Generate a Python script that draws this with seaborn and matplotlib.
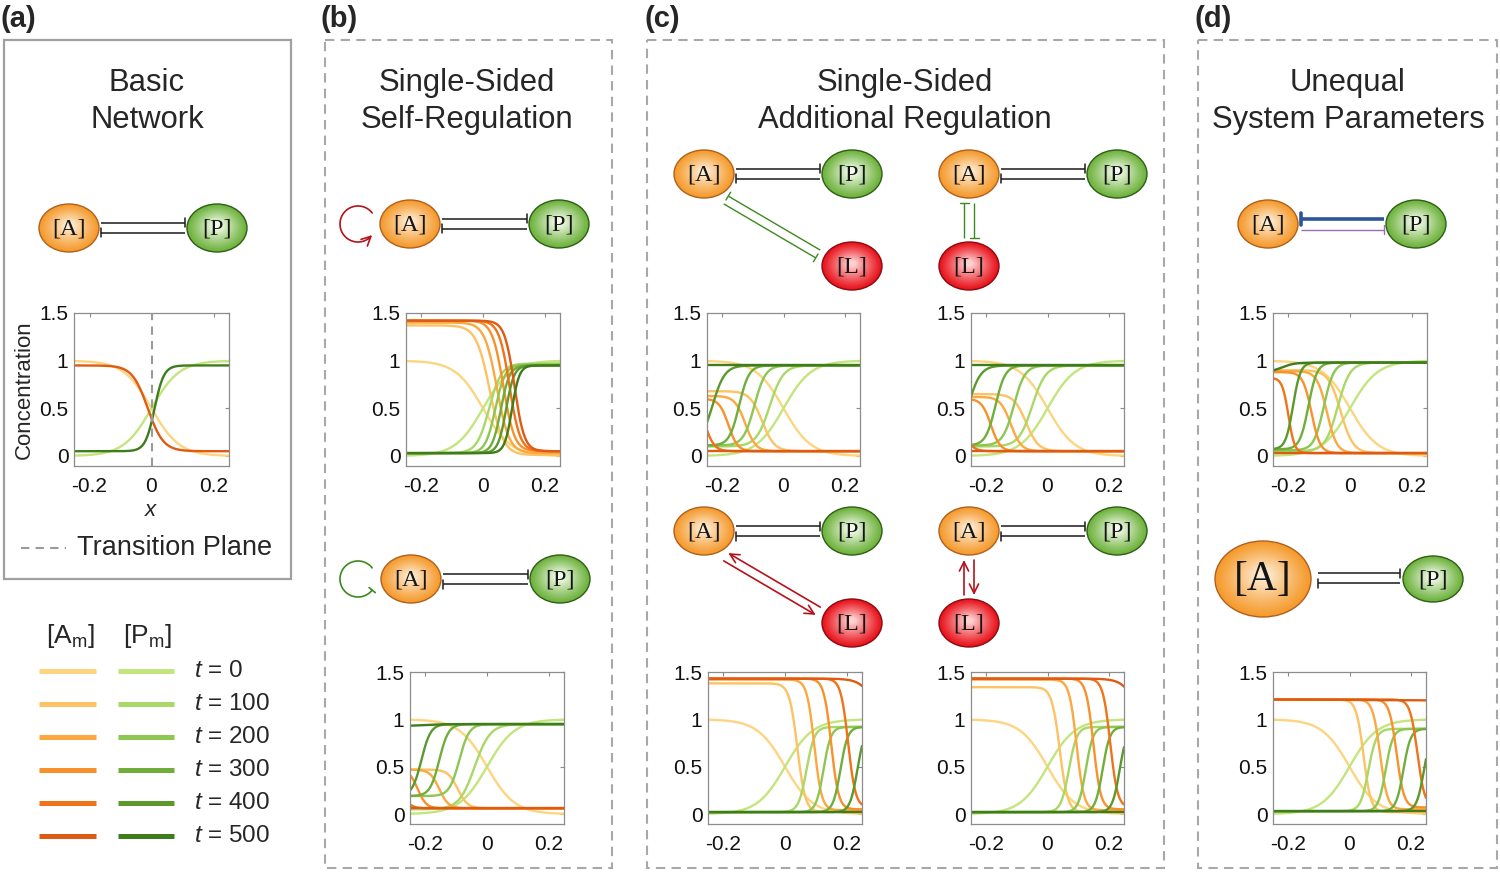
import numpy as np
import pandas as pd
import matplotlib
matplotlib.use("Agg")
import matplotlib.pyplot as plt
import seaborn as sns
from matplotlib.patches import Ellipse, Rectangle
from matplotlib.colors import to_rgb

# ---------------- data ----------------
TIMES = [0, 100, 200, 300, 400, 500]
A_COLORS = ["#FDD580", "#FDC263", "#FBA841", "#F8912C", "#F0731A", "#DF5A12"]
P_COLORS = ["#C3E57D", "#A9D867", "#8DC653", "#70AE3B", "#5B992D", "#3F7C1C"]

X_TICKS = [-0.2, 0, 0.2]
X_TICKLABELS = ["-0.2", "0", "0.2"]
Y_TICKS = [0, 0.5, 1, 1.5]
Y_TICKLABELS = ["0", "0.5", "1", "1.5"]

# Each curve is a single front: left level, right level, front position, front width
# (a) basic network: only t = 0 and t = 500 drawn
a_times = [0, 500]
a_A_left = [1.0, 0.95]; a_A_right = [0.0, 0.05]; a_A_mid = [0.0, -0.012]; a_A_w = [0.045, 0.025]
a_P_left = [0.0, 0.05]; a_P_right = [1.0, 0.95]; a_P_mid = [0.0, 0.01];  a_P_w = [0.045, 0.015]

# (b) top: self-activation
b1_A_left = [1.0, 1.37, 1.40, 1.42, 1.42, 1.42]
b1_A_right = [0.0, 0.01, 0.03, 0.05, 0.05, 0.05]
b1_A_mid = [0.0, 0.022, 0.045, 0.066, 0.086, 0.102]
b1_A_w = [0.045, 0.022, 0.02, 0.018, 0.017, 0.016]
b1_P_left = [0.0, 0.03, 0.03, 0.03, 0.03, 0.03]
b1_P_right = [1.0, 0.97, 0.96, 0.95, 0.95, 0.95]
b1_P_mid = [0.0, 0.02, 0.04, 0.058, 0.075, 0.094]
b1_P_w = [0.045, 0.02, 0.016, 0.014, 0.013, 0.012]

# (b) bottom: self-inhibition
b2_A_left = [1.0, 0.47, 0.47, 0.47, 0.47, 0.06]
b2_A_right = [0.0, 0.06, 0.06, 0.06, 0.06, 0.06]
b2_A_mid = [0.0, -0.095, -0.155, -0.225, -0.28, 1.0]
b2_A_w = [0.045, 0.016, 0.015, 0.014, 0.014, 0.014]
b2_P_left = [0.0, 0.05, 0.19, 0.19, 0.19, 0.93]
b2_P_right = [1.0, 0.95, 0.95, 0.95, 0.95, 0.95]
b2_P_mid = [0.0, -0.04, -0.09, -0.155, -0.213, -0.2]
b2_P_w = [0.045, 0.025, 0.016, 0.015, 0.015, 0.03]

# (c) top-left
c1_A_left = [1.0, 0.68, 0.63, 0.60, 0.60, 0.05]
c1_A_right = [0.0, 0.05, 0.05, 0.05, 0.05, 0.05]
c1_A_mid = [0.0, -0.07, -0.125, -0.18, -0.256, 1.0]
c1_A_w = [0.045, 0.02, 0.017, 0.015, 0.015, 0.015]
c1_P_left = [0.0, 0.10, 0.11, 0.11, 0.11, 0.95]
c1_P_right = [1.0, 0.95, 0.95, 0.95, 0.95, 0.95]
c1_P_mid = [0.0, -0.045, -0.095, -0.145, -0.232, 0.0]
c1_P_w = [0.045, 0.022, 0.018, 0.016, 0.02, 0.02]

# (c) top-right
c2_A_left = [1.0, 0.65, 0.62, 0.60, 0.60, 0.05]
c2_A_right = [0.0, 0.05, 0.05, 0.05, 0.05, 0.05]
c2_A_mid = [0.0, -0.07, -0.12, -0.185, -0.279, 1.0]
c2_A_w = [0.045, 0.02, 0.017, 0.015, 0.015, 0.015]
c2_P_left = [0.0, 0.10, 0.11, 0.11, 0.11, 0.95]
c2_P_right = [1.0, 0.95, 0.95, 0.95, 0.95, 0.95]
c2_P_mid = [0.0, -0.05, -0.11, -0.17, -0.259, 0.0]
c2_P_w = [0.045, 0.022, 0.018, 0.016, 0.02, 0.02]

# (c) bottom-left
c3_A_left = [1.0, 1.38, 1.42, 1.43, 1.43, 1.43]
c3_A_right = [0.0, 0.02, 0.04, 0.05, 0.07, 0.07]
c3_A_mid = [0.0, 0.04, 0.095, 0.15, 0.205, 0.32]
c3_A_w = [0.045, 0.013, 0.012, 0.012, 0.012, 0.025]
c3_P_left = [0.0, 0.02, 0.02, 0.02, 0.02, 0.02]
c3_P_right = [1.0, 0.92, 0.92, 0.92, 0.92, 0.92]
c3_P_mid = [0.0, 0.07, 0.125, 0.18, 0.235, 1.0]
c3_P_w = [0.045, 0.013, 0.012, 0.012, 0.012, 0.012]

# (c) bottom-right
c4_A_left = [1.0, 1.34, 1.42, 1.43, 1.43, 1.43]
c4_A_right = [0.0, 0.02, 0.04, 0.05, 0.07, 0.07]
c4_A_mid = [0.0, 0.04, 0.095, 0.15, 0.205, 0.318]
c4_A_w = [0.045, 0.013, 0.012, 0.012, 0.012, 0.025]
c4_P_left = [0.0, 0.02, 0.02, 0.02, 0.02, 0.02]
c4_P_right = [1.0, 0.92, 0.92, 0.92, 0.92, 0.92]
c4_P_mid = [0.0, 0.07, 0.125, 0.18, 0.236, 1.0]
c4_P_w = [0.045, 0.013, 0.012, 0.012, 0.012, 0.012]

# (d) top
d1_A_left = [1.0, 0.90, 0.89, 0.88, 0.82, 0.03]
d1_A_right = [0.0, 0.03, 0.03, 0.03, 0.03, 0.03]
d1_A_mid = [0.0, -0.03, -0.075, -0.125, -0.2, 1.0]
d1_A_w = [0.045, 0.02, 0.016, 0.014, 0.01, 0.01]
d1_P_left = [0.0, 0.05, 0.06, 0.07, 0.07, 0.88]
d1_P_right = [1.0, 0.98, 0.98, 0.98, 0.98, 0.98]
d1_P_mid = [0.0, -0.04, -0.085, -0.135, -0.185, -0.22]
d1_P_w = [0.045, 0.02, 0.016, 0.014, 0.012, 0.02]

# (d) bottom
d2_A_left = [1.0, 1.21, 1.21, 1.21, 1.21, 1.21]
d2_A_right = [0.0, 0.02, 0.05, 0.07, 0.07, 1.20]
d2_A_mid = [0.0, 0.046, 0.1, 0.154, 0.222, 0.0]
d2_A_w = [0.045, 0.012, 0.012, 0.012, 0.012, 0.1]
d2_P_left = [0.0, 0.03, 0.03, 0.03, 0.03, 0.03]
d2_P_right = [1.0, 0.90, 0.90, 0.90, 0.90, 0.03]
d2_P_mid = [0.0, 0.062, 0.118, 0.176, 0.2435, 1.0]
d2_P_w = [0.045, 0.013, 0.012, 0.012, 0.012, 0.012]

# ---------------- style ----------------
sns.set_style("white")
plt.rcParams['font.family'] = ['Liberation Sans', 'DejaVu Sans']
plt.rcParams['mathtext.fontset'] = 'custom'
plt.rcParams['mathtext.rm'] = 'Liberation Sans'
plt.rcParams['mathtext.it'] = 'Liberation Sans:italic'

W, H = 1500, 872
fig = plt.figure(figsize=(15, 8.72), dpi=100)
ov = fig.add_axes([0, 0, 1, 1])
ov.set_xlim(0, W); ov.set_ylim(H, 0); ov.axis('off')

X = np.linspace(-0.25, 0.25, 301)


def build(times, AL, AR, Am, Aw, PL, PR, Pm, Pw):
    parts, pal, order = [], {}, []
    for i, t in enumerate(times):
        k = TIMES.index(t)
        a = AR[i] + (AL[i] - AR[i]) / (1 + np.exp((X - Am[i]) / Aw[i]))
        p = PL[i] + (PR[i] - PL[i]) / (1 + np.exp(-(X - Pm[i]) / Pw[i]))
        for name, vals, col in ((f"A{t}", a, A_COLORS[k]), (f"P{t}", p, P_COLORS[k])):
            parts.append(pd.DataFrame({"x": X, "y": vals, "curve": name}))
            pal[name] = col
            order.append(name)
    return pd.concat(parts, ignore_index=True), pal, order


def plot_axes(box, data, xlabel=None, ylabel=None):
    x0, y0, x1, y1 = box
    ax = fig.add_axes([x0 / W, 1 - y1 / H, (x1 - x0) / W, (y1 - y0) / H])
    df, pal, order = data
    sns.lineplot(data=df, x="x", y="y", hue="curve", hue_order=order, palette=pal,
                 legend=False, ax=ax, linewidth=1.7, estimator=None, sort=False)
    ax.set_xlim(-0.25, 0.25)
    ax.set_ylim(-0.105, 1.5)
    ax.set_xticks(X_TICKS); ax.set_xticklabels(X_TICKLABELS)
    ax.set_yticks(Y_TICKS); ax.set_yticklabels(Y_TICKLABELS)
    ax.tick_params(direction='in', length=3, width=0.8, color='#8a8a8a',
                   top=True, right=True, labelsize=15, pad=4, labelcolor='#111111')
    ax.tick_params(axis='x', pad=8)
    for s in ax.spines.values():
        s.set_color('#8c8c8c'); s.set_linewidth(0.9)
    ax.set_xlabel(xlabel if xlabel else "", fontsize=16, labelpad=3)
    ax.set_ylabel(ylabel if ylabel else "", fontsize=16, labelpad=3)
    return ax


# ---------------- panel boxes & labels ----------------
ov.add_patch(Rectangle((4, 40), 287, 539, fill=False, edgecolor='#a0a0a0', lw=1.6))
for (x0, x1) in [(325, 612), (647, 1164), (1198, 1497)]:
    ov.add_patch(Rectangle((x0, 40), x1 - x0, 828, fill=False, edgecolor='#a8a8a8',
                           lw=1.5, linestyle=(0, (4.5, 3))))
for lab, x in [("(a)", 1), ("(b)", 321), ("(c)", 644), ("(d)", 1195)]:
    ov.text(x, 27, lab, fontsize=21, fontweight='bold', ha='left', va='baseline')

titles = [(147, "Basic", "Network"), (467, "Single-Sided", "Self-Regulation"),
          (905, "Single-Sided", "Additional Regulation"), (1348, "Unequal", "System Parameters")]
for cx, l1, l2 in titles:
    ov.text(cx, 91, l1, fontsize=22.3, ha='center', va='baseline')
    ov.text(cx, 128, l2, fontsize=22.3, ha='center', va='baseline')

# ---------------- network diagrams ----------------
NODE_STYLE = {
    "A": ("#F59A2C", "#FDEBD2", "#B0601E"),
    "P": ("#6DB23C", "#F4FBEC", "#2F5E16"),
    "L": ("#E8121B", "#FFD0D0", "#8A0C10"),
}


def mix(c1, c2, f):
    return tuple((1 - f) * np.array(to_rgb(c1)) + f * np.array(to_rgb(c2)))


def node(cx, cy, kind, rx=30, ry=24, fs=17.5):
    edge, center, outline = NODE_STYLE[kind]
    N = 22
    for k in range(N):
        s = 1 - 0.92 * k / N
        f = (k / (N - 1)) ** 1.1
        ov.add_patch(Ellipse((cx, cy - 0.12 * ry * (1 - s)), 2 * rx * s, 2 * ry * s,
                             facecolor=mix(edge, center, f), edgecolor='none', zorder=3))
    ov.add_patch(Ellipse((cx, cy), 2 * rx, 2 * ry, facecolor='none', edgecolor=outline,
                         lw=1.0, zorder=4))
    ov.text(cx, cy + 1, f"[{kind}]", ha='center', va='center', fontsize=fs,
            family='Liberation Serif', color='#151515', zorder=5)


def tbar(p0, p1, color='#1a1a1a', lw=1.1, half=4.5):
    p0 = np.array(p0, float); p1 = np.array(p1, float)
    d = (p1 - p0) / np.linalg.norm(p1 - p0)
    n = np.array([-d[1], d[0]])
    ov.plot([p0[0], p1[0]], [p0[1], p1[1]], color=color, lw=lw, solid_capstyle='butt', zorder=2)
    b0, b1 = p1 + n * half, p1 - n * half
    ov.plot([b0[0], b1[0]], [b0[1], b1[1]], color=color, lw=lw, zorder=2)


def arrow(p0, p1, color='#B5121B', lw=1.2):
    ov.annotate('', xy=tuple(p1), xytext=tuple(p0),
                arrowprops=dict(arrowstyle='->,head_length=0.6,head_width=0.3', color=color,
                                lw=lw, shrinkA=0, shrinkB=0, mutation_scale=11), zorder=2)


def ap_pair(xa, xp, y, rxa=30, rxp=30, off=5):
    tbar((xa + rxa + 2, y - off), (xp - rxp - 2, y - off))
    tbar((xp - rxp - 2, y + off), (xa + rxa + 2, y + off))


def diag_pair(pa, pl, kind):
    s = np.array(pa, float) + np.array([22, 26])
    e = np.array(pl, float) + np.array([-34, -12])
    d = (e - s) / np.linalg.norm(e - s)
    n = np.array([-d[1], d[0]])
    up, lo = -n * 4.5, n * 4.5
    if kind == "inh":
        tbar(e + up, s + up, color='#3C8A1E', lw=1.0)
        tbar(s + lo, e + lo, color='#3C8A1E', lw=1.0)
    else:
        arrow(e + up, s + up)
        arrow(s + lo, e + lo)


def vert_pair(x, ya, yl, kind):
    top, bot = ya + 29, yl - 28
    if kind == "inh":
        tbar((x - 5, bot), (x - 5, top), color='#3C8A1E', lw=1.0)
        tbar((x + 5, top), (x + 5, bot), color='#3C8A1E', lw=1.0)
    else:
        arrow((x - 5, bot), (x - 5, top))
        arrow((x + 5, top), (x + 5, bot))


def self_loop(cx, cy, color, kind, r=18):
    th = np.radians(np.linspace(38, 322, 120))
    xs = cx + r * np.cos(th); ys = cy - r * np.sin(th)
    if kind == "act":
        ov.plot(xs[:-6], ys[:-6], color=color, lw=1.2, zorder=2)
        arrow((xs[-8], ys[-8]), (xs[-1], ys[-1]), color=color, lw=1.2)
    else:
        ov.plot(xs, ys, color=color, lw=1.2, zorder=2)
        d = np.array([xs[-1] - xs[-2], ys[-1] - ys[-2]]); d /= np.linalg.norm(d)
        n = np.array([-d[1], d[0]]) * 4
        ov.plot([xs[-1] + n[0], xs[-1] - n[0]], [ys[-1] + n[1], ys[-1] - n[1]], color=color, lw=1.2)


# (a)
node(69, 228, "A"); node(217, 228, "P"); ap_pair(69, 217, 228)
# (b)
node(410, 224, "A"); node(559, 224, "P"); ap_pair(410, 559, 224)
self_loop(358, 224, '#B5121B', "act")
node(411, 579, "A"); node(560, 579, "P"); ap_pair(411, 560, 579)
self_loop(358, 579, '#3C8A1E', "inh")
# (c)
node(704, 174, "A"); node(852, 174, "P"); node(852, 266, "L"); ap_pair(704, 852, 174)
diag_pair((704, 174), (852, 266), "inh")
node(969, 174, "A"); node(1117, 174, "P"); node(969, 266, "L"); ap_pair(969, 1117, 174)
vert_pair(969, 174, 266, "inh")
node(704, 531, "A"); node(852, 531, "P"); node(852, 623, "L"); ap_pair(704, 852, 531)
diag_pair((704, 531), (852, 623), "act")
node(969, 531, "A"); node(1117, 531, "P"); node(969, 623, "L"); ap_pair(969, 1117, 531)
vert_pair(969, 531, 623, "act")
# (d)
node(1268, 224, "A"); node(1416, 224, "P")
tbar((1384, 219), (1301, 219), color='#2E5597', lw=2.6, half=6)
tbar((1301, 230), (1384, 230), color='#9B6FB5', lw=1.0, half=4.5)
node(1263, 579, "A", rx=48, ry=38, fs=30); node(1433, 579, "P", rx=30, ry=23)
tbar((1318, 573), (1400, 573)); tbar((1400, 583), (1318, 583))

# ---------------- plots ----------------
ax_a = plot_axes((74, 313, 229, 466),
                 build(a_times, a_A_left, a_A_right, a_A_mid, a_A_w,
                       a_P_left, a_P_right, a_P_mid, a_P_w),
                 xlabel="$x$", ylabel="Concentration")
ax_a.axvline(0, color='#9a9a9a', lw=1.5, ls=(0, (4, 3)), zorder=5)

plot_axes((406, 313, 560, 466), build(TIMES, b1_A_left, b1_A_right, b1_A_mid, b1_A_w,
                                      b1_P_left, b1_P_right, b1_P_mid, b1_P_w))
plot_axes((410, 672, 564, 824), build(TIMES, b2_A_left, b2_A_right, b2_A_mid, b2_A_w,
                                      b2_P_left, b2_P_right, b2_P_mid, b2_P_w))
plot_axes((707, 313, 860, 466), build(TIMES, c1_A_left, c1_A_right, c1_A_mid, c1_A_w,
                                      c1_P_left, c1_P_right, c1_P_mid, c1_P_w))
plot_axes((971, 313, 1124, 466), build(TIMES, c2_A_left, c2_A_right, c2_A_mid, c2_A_w,
                                       c2_P_left, c2_P_right, c2_P_mid, c2_P_w))
plot_axes((708, 672, 862, 824), build(TIMES, c3_A_left, c3_A_right, c3_A_mid, c3_A_w,
                                      c3_P_left, c3_P_right, c3_P_mid, c3_P_w))
plot_axes((971, 672, 1124, 824), build(TIMES, c4_A_left, c4_A_right, c4_A_mid, c4_A_w,
                                       c4_P_left, c4_P_right, c4_P_mid, c4_P_w))
plot_axes((1273, 313, 1427, 466), build(TIMES, d1_A_left, d1_A_right, d1_A_mid, d1_A_w,
                                        d1_P_left, d1_P_right, d1_P_mid, d1_P_w))
plot_axes((1273, 672, 1426, 824), build(TIMES, d2_A_left, d2_A_right, d2_A_mid, d2_A_w,
                                        d2_P_left, d2_P_right, d2_P_mid, d2_P_w))

# ---------------- legends ----------------
ov.plot([21, 66], [548, 548], color='#9a9a9a', lw=1.5, ls=(0, (4, 3)))
ov.text(77, 548, "Transition Plane", fontsize=19.5, ha='left', va='center')

ov.text(70, 636, r"$\mathregular{[A_m]}$", fontsize=19, ha='center', va='center')
ov.text(147, 636, r"$\mathregular{[P_m]}$", fontsize=19, ha='center', va='center')
for i, t in enumerate(TIMES):
    y = 671 + 33 * i
    ov.plot([39, 96], [y, y], color=A_COLORS[i], lw=3.6, solid_capstyle='butt')
    ov.plot([118, 174], [y, y], color=P_COLORS[i], lw=3.6, solid_capstyle='butt')
    ov.text(194, y, f"$t$ = {t}", fontsize=17.5, ha='left', va='center')

fig.savefig("out.png", dpi=100)
